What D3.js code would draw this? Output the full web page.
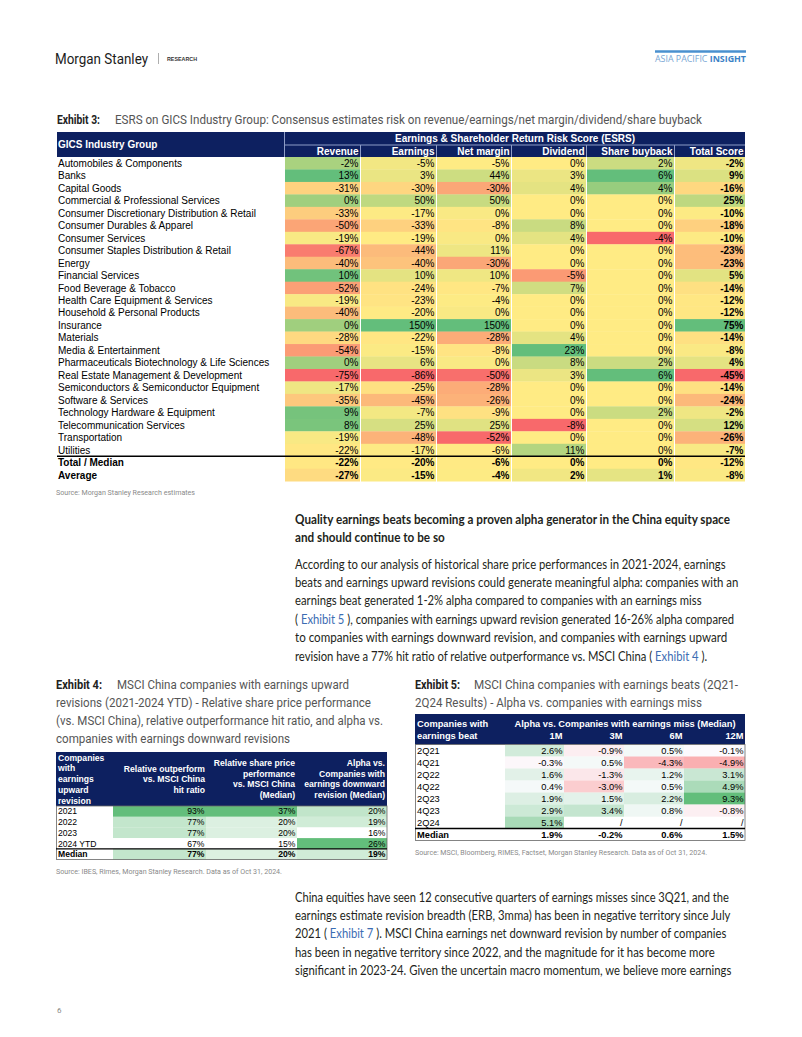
<!DOCTYPE html>
<html><head><meta charset="utf-8">
<script src="https://cdn.jsdelivr.net/npm/d3@7"></script>
<style>body{margin:0;background:#fff}svg{display:block}</style>
</head><body><svg id="page" width="802" height="1037"></svg>
<script>
// ---------- DATA ----------
const industries = ["Automobiles & Components","Banks","Capital Goods","Commercial & Professional Services","Consumer Discretionary Distribution & Retail","Consumer Durables & Apparel","Consumer Services","Consumer Staples Distribution & Retail","Energy","Financial Services","Food Beverage & Tobacco","Health Care Equipment & Services","Household & Personal Products","Insurance","Materials","Media & Entertainment","Pharmaceuticals Biotechnology & Life Sciences","Real Estate Management & Development","Semiconductors & Semiconductor Equipment","Software & Services","Technology Hardware & Equipment","Telecommunication Services","Transportation","Utilities"];
const esrsColumns = ["Revenue","Earnings","Net margin","Dividend","Share buyback","Total Score"];
const revenue   = [-2,13,-31,0,-33,-50,-19,-67,-40,10,-52,-19,-40,0,-28,-54,0,-75,-17,-35,9,8,-19,-22];
const earnings  = [-5,3,-30,50,-17,-33,-19,-44,-40,10,-24,-23,-20,150,-22,-15,6,-86,-25,-45,-7,25,-48,-17];
const netMargin = [-5,44,-30,50,0,-8,0,11,-30,10,-7,-4,0,150,-28,-8,0,-50,-28,-26,-9,25,-52,-6];
const dividend  = [0,3,4,0,0,8,4,0,0,-5,7,0,0,0,4,23,8,3,0,0,0,-8,0,11];
const shareBuyback = [2,6,4,0,0,0,-4,0,0,0,0,0,0,0,0,0,2,6,0,0,2,0,0,0];
const totalScore = [-2,9,-16,25,-10,-18,-10,-23,-23,5,-14,-12,-12,75,-14,-8,4,-45,-14,-24,-2,12,-26,-7];
const summaryLabels = ["Total / Median","Average"];
const totalMedian = [-22,-20,-6,0,0,-12];
const average = [-27,-15,-4,2,1,-8];

const ex4Years = ["2021","2022","2023","2024 YTD"];
const hitRatio = [93,77,77,67];
const relPerf = [37,20,20,15];
const alphaVsDown = [20,19,16,26];
const ex4Median = [77,20,19];

const ex5Quarters = ["2Q21","4Q21","2Q22","4Q22","2Q23","4Q23","2Q24"];
const ex5Horizons = ["1M","3M","6M","12M"];
const alpha1M  = [2.6,-0.3,1.6,0.4,1.9,2.9,5.1];
const alpha3M  = [-0.9,0.5,-1.3,-3.0,1.5,3.4,null];
const alpha6M  = [0.5,-4.3,1.2,0.5,2.2,0.8,null];
const alpha12M = [-0.1,-4.9,3.1,4.9,9.3,-0.8,null];
const ex5Median = [1.9,-0.2,0.6,1.5];

// ---------- SETUP ----------
const svg = d3.select("#page");
svg.append("rect").attr("width",802).attr("height",1037).attr("fill","#fff");
const NAVY = "#0d2060";
const ARIAL = "'Liberation Sans', Arial, sans-serif";
const ROBOTO = "Roboto, sans-serif";
const BODY = "Lato, sans-serif";

function txt(g, x, y, s, o = {}) {
  const t = g.append("text").attr("x", x).attr("y", y).text(s)
    .attr("font-family", o.ff || ARIAL).attr("font-size", o.fs || 10)
    .attr("fill", o.fill || "#000").attr("font-weight", o.fw || 400)
    .attr("text-anchor", o.anchor || "start");
  if (o.len) t.attr("textLength", o.len).attr("lengthAdjust", "spacingAndGlyphs");
  return t;
}

// ---------- PAGE HEADER ----------
txt(svg, 55, 63.5, "Morgan Stanley", {ff: ROBOTO, fs: 15, fill: "#1c1c1c", len: 93});
svg.append("line").attr("x1",158.5).attr("x2",158.5).attr("y1",53).attr("y2",64).attr("stroke","#999").attr("stroke-width",0.8);
txt(svg, 167, 61, "RESEARCH", {ff: ARIAL, fs: 5.5, fw: 700, fill: "#333", len: 30});
svg.append("line").attr("x1",655).attr("x2",746).attr("y1",51.5).attr("y2",51.5).attr("stroke","#4a90cf").attr("stroke-width",2.5);
{
  const t = svg.append("text").attr("x",746).attr("y",62).attr("text-anchor","end")
    .attr("font-family","'Open Sans', sans-serif").attr("font-size",9)
    .attr("textLength",91).attr("lengthAdjust","spacingAndGlyphs");
  t.append("tspan").attr("fill","#78a6d4").text("ASIA PACIFIC ");
  t.append("tspan").attr("fill","#3b82c6").attr("font-weight",700).text("INSIGHT");
}

// ---------- EXHIBIT 3 ----------
txt(svg, 57, 123.5, "Exhibit 3:", {ff: ROBOTO, fs: 12, fw: 700, fill: "#222", len: 43});
txt(svg, 115, 123.5, "ESRS on GICS Industry Group: Consensus estimates risk on revenue/earnings/net margin/dividend/share buyback", {ff: ROBOTO, fs: 12, fill: "#555", len: 587});

const ex3 = svg.append("g");
const ex3Left = 57, ex3Right = 745;
const colLeft = d3.scaleOrdinal().domain(esrsColumns).range([285,361,437,512,587,675]);
const colRight = d3.scaleOrdinal().domain(esrsColumns).range([360,436,511,586,674,745]);
const rowNames = industries.concat(summaryLabels);
const y3 = d3.scaleBand().domain(rowNames).range([157, 481.2]);
const ex3Series = [revenue, earnings, netMargin, dividend, shareBuyback, totalScore];
const ex3Color = ex3Series.map(v => d3.scaleLinear()
  .domain([d3.min(v), d3.median(v), d3.max(v)])
  .range(["#f8696b","#ffeb84","#63be7b"]).clamp(true));

// header
ex3.append("rect").attr("x",ex3Left).attr("y",132).attr("width",ex3Right-ex3Left).attr("height",25).attr("fill",NAVY);
ex3.append("line").attr("x1",284.5).attr("x2",284.5).attr("y1",132).attr("y2",157).attr("stroke","#8d9cc6").attr("stroke-width",1);
ex3.append("line").attr("x1",285).attr("x2",ex3Right).attr("y1",145).attr("y2",145).attr("stroke","#8d9cc6").attr("stroke-width",1);
esrsColumns.slice(0,-1).forEach(c => {
  ex3.append("line").attr("x1",colRight(c)+0.5).attr("x2",colRight(c)+0.5).attr("y1",145).attr("y2",157).attr("stroke","#8d9cc6").attr("stroke-width",1);
});
txt(ex3, 58, 148, "GICS Industry Group", {fs: 10, fw: 700, fill: "#fff"});
txt(ex3, (285+ex3Right)/2, 142, "Earnings & Shareholder Return Risk Score (ESRS)", {fs: 10, fw: 700, fill: "#fff", anchor: "middle"});
esrsColumns.forEach(c => txt(ex3, colRight(c)-1.5, 155, c, {fs: 10, fw: 700, fill: "#fff", anchor: "end"}));

// body
rowNames.forEach((r, i) => {
  const isSum = i >= industries.length;
  const yy = y3(r), h = y3.bandwidth();
  txt(ex3, 58, yy + h/2 + 3.6, r, {fs: 10, fw: isSum ? 700 : 400});
  esrsColumns.forEach((c, j) => {
    const v = isSum ? (i === industries.length ? totalMedian[j] : average[j]) : ex3Series[j][i];
    ex3.append("rect").attr("x", colLeft(c)).attr("y", yy).attr("width", colRight(c)-colLeft(c)).attr("height", h + 0.3)
      .attr("fill", ex3Color[j](v));
    txt(ex3, colRight(c)-1.5, yy + h/2 + 3.6, v + "%", {fs: 10, anchor: "end", fw: (isSum || j === 5) ? 700 : 400});
  });
});
ex3.append("line").attr("x1",ex3Left).attr("x2",ex3Right).attr("y1",y3(summaryLabels[0])).attr("y2",y3(summaryLabels[0])).attr("stroke","#000").attr("stroke-width",1.3);
txt(svg, 56, 494.5, "Source: Morgan Stanley Research estimates", {ff: ROBOTO, fs: 7, fill: "#8a8a8a", len: 139});

// ---------- BODY TEXT ----------
const LINK = "#3c6db3", TXT = "#231f20";
function para(x, y0, lh, lines, o = {}) {
  lines.forEach((ln, i) => {
    const t = svg.append("text").attr("x", 0).attr("y", 0)
      .attr("font-family", BODY).attr("font-size", o.fs || 12.5).attr("font-weight", o.fw || 400)
      .attr("fill", TXT).style("white-space","pre");
    ln.parts.forEach(p => {
      const s = t.append("tspan").text(typeof p === "string" ? p : p.link);
      if (typeof p !== "string") s.attr("fill", LINK);
    });
    const w = t.node().getComputedTextLength();
    t.attr("transform", `translate(${x},${y0 + i*lh}) scale(${(ln.end - x)/w},1)`);
  });
}
para(295, 523.5, 18.2, [
  {parts:["Quality earnings beats becoming a proven alpha generator in the China equity space"], end: 730},
  {parts:["and should continue to be so"], end: 445}
], {fw: 700});
para(295, 568.5, 18.4, [
  {parts:["According to our analysis of historical share price performances in 2021-2024, earnings"], end: 726},
  {parts:["beats and earnings upward revisions could generate meaningful alpha: companies with an"], end: 739},
  {parts:["earnings beat generated 1-2% alpha compared to companies with an earnings miss"], end: 702},
  {parts:["(", {link:" Exhibit 5 "}, "), companies with earnings upward revision generated 16-26% alpha compared"], end: 735},
  {parts:["to companies with earnings downward revision, and companies with earnings upward"], end: 728},
  {parts:["revision have a 77% hit ratio of relative outperformance vs. MSCI China (", {link:" Exhibit 4 "}, ")."], end: 708}
]);
para(295, 901.8, 18.25, [
  {parts:["China equities have seen 12 consecutive quarters of earnings misses since 3Q21, and the"], end: 729},
  {parts:["earnings estimate revision breadth (ERB, 3mma) has been in negative territory since July"], end: 731},
  {parts:["2021 (", {link:" Exhibit 7 "}, "). MSCI China earnings net downward revision by number of companies"], end: 727},
  {parts:["has been in negative territory since 2022, and the magnitude for it has become more"], end: 715},
  {parts:["significant in 2023-24. Given the uncertain macro momentum, we believe more earnings"], end: 732}
]);

// ---------- EXHIBIT 4 ----------
const ex4 = svg.append("g");
txt(ex4, 56, 689, "Exhibit 4:", {ff: ROBOTO, fs: 12.5, fw: 700, fill: "#222", len: 46});
txt(ex4, 117, 689, "MSCI China companies with earnings upward", {ff: ROBOTO, fs: 12.5, fill: "#555", len: 232});
txt(ex4, 56, 707, "revisions (2021-2024 YTD) - Relative share price performance", {ff: ROBOTO, fs: 12.5, fill: "#555", len: 315});
txt(ex4, 56, 725, "(vs. MSCI China), relative outperformance hit ratio, and alpha vs.", {ff: ROBOTO, fs: 12.5, fill: "#555", len: 327});
txt(ex4, 56, 743, "companies with earnings downward revisions", {ff: ROBOTO, fs: 12.5, fill: "#555", len: 234});

const ex4Cols = ["hit","perf","alpha"];
const ex4Series = [hitRatio, relPerf, alphaVsDown];
const ex4L = d3.scaleOrdinal().domain(ex4Cols).range([113,206,297]);
const ex4R = d3.scaleOrdinal().domain(ex4Cols).range([206,297,387]);
const ex4Rows = ex4Years.concat(["Median"]);
const y4 = d3.scaleBand().domain(ex4Rows).range([806, 859.5]);
const ex4Color = ex4Series.map(v => d3.scaleLinear().domain([d3.min(v), d3.max(v)]).range(["#ffffff","#63be7b"]).clamp(true));

ex4.append("rect").attr("x",56).attr("y",752).attr("width",331).attr("height",54).attr("fill",NAVY);
const h4 = {fs: 8.6, fw: 700, fill: "#fff"};
["Companies","with","earnings","upward","revision"].forEach((s,i) => txt(ex4, 58, 760.5 + i*10.8, s, h4));
["Relative outperform","vs. MSCI China","hit ratio"].forEach((s,i) => txt(ex4, 205, 771.5 + i*10.7, s, {...h4, anchor:"end"}));
["Relative share price","performance","vs. MSCI China","(Median)"].forEach((s,i) => txt(ex4, 295, 765.8 + i*10.8, s, {...h4, anchor:"end"}));
["Alpha vs.","Companies with","earnings downward","revision (Median)"].forEach((s,i) => txt(ex4, 385, 765.8 + i*10.8, s, {...h4, anchor:"end"}));

ex4Rows.forEach((r, i) => {
  const isMed = r === "Median";
  const yy = y4(r), h = y4.bandwidth();
  txt(ex4, 58, yy + h/2 + 3.1, r, {fs: 8.6, fw: isMed ? 700 : 400});
  ex4Cols.forEach((c, j) => {
    const v = isMed ? ex4Median[j] : ex4Series[j][i];
    ex4.append("rect").attr("x", ex4L(c)).attr("y", yy).attr("width", ex4R(c)-ex4L(c)).attr("height", h+0.2).attr("fill", ex4Color[j](v));
    txt(ex4, ex4R(c)-1.5, yy + h/2 + 3.1, v + "%", {fs: 8.6, anchor: "end", fw: isMed ? 700 : 400});
  });
});
ex4.append("rect").attr("x",56.5).attr("y",806).attr("width",330.5).attr("height",53.5).attr("fill","none").attr("stroke","#666").attr("stroke-width",0.8);
ex4.append("line").attr("x1",56).attr("x2",387).attr("y1",y4("Median")).attr("y2",y4("Median")).attr("stroke","#000").attr("stroke-width",1.3);
txt(svg, 56, 874.3, "Source: IBES, Rimes, Morgan Stanley Research. Data as of Oct 31, 2024.", {ff: ROBOTO, fs: 7, fill: "#8a8a8a", len: 226});

// ---------- EXHIBIT 5 ----------
const ex5 = svg.append("g");
txt(ex5, 415, 689, "Exhibit 5:", {ff: ROBOTO, fs: 12.5, fw: 700, fill: "#222", len: 45});
txt(ex5, 474, 689, "MSCI China companies with earnings beats (2Q21-", {ff: ROBOTO, fs: 12.5, fill: "#555", len: 264});
txt(ex5, 415, 707, "2Q24 Results) - Alpha vs. companies with earnings miss", {ff: ROBOTO, fs: 12.5, fill: "#555", len: 287});

const ex5Series = [alpha1M, alpha3M, alpha6M, alpha12M];
const ex5L = d3.scaleOrdinal().domain(ex5Horizons).range([505,564,624,684]);
const ex5R = d3.scaleOrdinal().domain(ex5Horizons).range([564,624,684,745]);
const ex5Rows = ex5Quarters.concat(["Median"]);
const y5 = d3.scaleBand().domain(ex5Rows).range([744.5, 840.5]);
const allEx5 = ex5Series.flat().filter(v => v !== null);
const ex5Max = d3.max(allEx5, v => Math.abs(v));
const ex5Color = d3.scaleLinear().domain([-ex5Max, 0, ex5Max]).range(["#f8696b","#fcfcff","#63be7b"]).clamp(true);

ex5.append("rect").attr("x",415).attr("y",714).attr("width",330).attr("height",30.5).attr("fill",NAVY);
const h5 = {fs: 9.3, fw: 700, fill: "#fff"};
txt(ex5, 417, 726.6, "Companies with", h5);
txt(ex5, 417, 739, "earnings beat", h5);
txt(ex5, 625, 726.6, "Alpha vs. Companies with earnings miss (Median)", {...h5, anchor: "middle"});
ex5Horizons.forEach(c => txt(ex5, ex5R(c)-1.5, 739, c, {...h5, anchor: "end"}));

ex5Rows.forEach((r, i) => {
  const isMed = r === "Median";
  const yy = y5(r), h = y5.bandwidth();
  txt(ex5, 417, yy + h/2 + 3.3, r, {fs: 9.3, fw: isMed ? 700 : 400});
  ex5Horizons.forEach((c, j) => {
    const v = isMed ? ex5Median[j] : ex5Series[j][i];
    if (v !== null && !isMed) {
      ex5.append("rect").attr("x", ex5L(c)).attr("y", yy).attr("width", ex5R(c)-ex5L(c)).attr("height", h+0.2).attr("fill", ex5Color(v));
    }
    txt(ex5, ex5R(c)-1.5, yy + h/2 + 3.3, v === null ? "/" : v.toFixed(1) + "%", {fs: 9.3, anchor: "end", fw: isMed ? 700 : 400});
  });
});
ex5.append("rect").attr("x",415.5).attr("y",744.5).attr("width",329.5).attr("height",96).attr("fill","none").attr("stroke","#666").attr("stroke-width",0.8);
ex5.append("line").attr("x1",415).attr("x2",745).attr("y1",y5("Median")).attr("y2",y5("Median")).attr("stroke","#000").attr("stroke-width",1.3);
txt(svg, 415, 855.3, "Source: MSCI, Bloomberg, RIMES, Factset, Morgan Stanley Research. Data as of Oct 31, 2024.", {ff: ROBOTO, fs: 7, fill: "#8a8a8a", len: 292});

// page number
txt(svg, 57, 1013, "6", {ff: ROBOTO, fs: 8, fill: "#888"});
</script></body></html>
